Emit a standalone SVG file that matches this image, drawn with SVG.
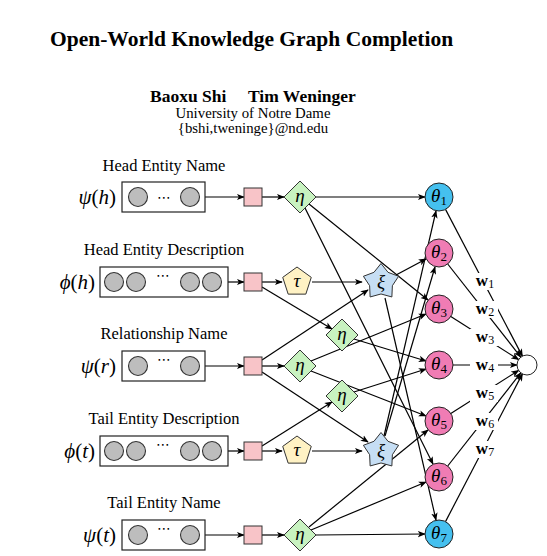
<svg xmlns="http://www.w3.org/2000/svg" width="547" height="556" viewBox="0 0 547 556">
<style>
text { font-family: "Liberation Serif", "Times New Roman", serif; fill:#000; }
.title { font-size:21.5px; font-weight:bold; }
.auth { font-size:17.5px; font-weight:bold; }
.aff { font-size:14.8px; text-anchor:middle; }
.lbl { font-size:16.5px; text-anchor:middle; }
.math { font-size:21px; font-style:italic; text-anchor:end; }
.up { font-style:normal; }
.dots { font-family:"DejaVu Sans", sans-serif; font-size:14px; text-anchor:middle; }
.sym { font-size:19px; font-style:italic; text-anchor:middle; }
.th { font-size:19px; font-style:italic; text-anchor:middle; }
.sub { font-size:13px; font-style:normal; }
.box { fill:#fff; stroke:#222; stroke-width:1.2; }
.dot { fill:#bdbdbd; stroke:#333; stroke-width:1.1; }
.sq { fill:#f8c4c8; stroke:#333; stroke-width:1; }
.dia { fill:#c8f2c0; stroke:#333; stroke-width:1; }
.pent { fill:#fff2c4; stroke:#333; stroke-width:1; }
.star { fill:#c6def4; stroke:#333; stroke-width:1; }
.tp { fill:#f07cb4; stroke:#222; stroke-width:1; }
.tc { fill:#45c0ef; stroke:#222; stroke-width:1; }
.out { fill:#fff; stroke:#222; stroke-width:1; }
#connectors line { stroke:#000; stroke-width:1.2; fill:none; marker-end:url(#ah); }
.wbg { fill:#fff; stroke:none; }
.w { font-size:17px; font-weight:bold; text-anchor:middle; }
.ws { font-size:12px; font-weight:normal; }
</style>
<defs>
<marker id="ah" viewBox="0 0 10 10" refX="9" refY="5" markerWidth="8" markerHeight="8" orient="auto" markerUnits="userSpaceOnUse">
<path d="M0,1 L10,5 L0,9 L2.5,5 z" fill="#000"/>
</marker>
<polygon id="dm" points="0,-16 16,0 0,16 -16,0"/>
<polygon id="pg" points="0,-15 14.27,-4.64 8.82,12.14 -8.82,12.14 -14.27,-4.64"/>
<polygon id="st" points="0,-18.5 7.04,-9.68 17.6,-5.71 11.38,3.7 10.87,14.96 0,11.97 -10.87,14.96 -11.38,3.7 -17.6,-5.71 -7.04,-9.68"/>
</defs>

<rect width="547" height="556" fill="#fff"/>

<g id="header">
<text class="title" x="50" y="46">Open-World Knowledge Graph Completion</text>
<text class="auth" x="150" y="102">Baoxu Shi</text>
<text class="auth" x="248" y="102">Tim Weninger</text>
<text class="aff" x="253" y="118">University of Notre Dame</text>
<text class="aff" x="253" y="133">{bshi,tweninge}@nd.edu</text>
</g>

<g id="connectors">
<line x1="205" y1="197" x2="244" y2="197"/>
<line x1="228" y1="282" x2="244" y2="282"/>
<line x1="205" y1="366" x2="244" y2="366"/>
<line x1="228" y1="451" x2="244" y2="451"/>
<line x1="205" y1="535" x2="244" y2="535"/>
<line x1="262" y1="197" x2="284" y2="197"/>
<line x1="262" y1="282" x2="282" y2="282"/>
<line x1="262" y1="366" x2="284" y2="366"/>
<line x1="262" y1="451" x2="282" y2="451"/>
<line x1="262" y1="535" x2="284" y2="535"/>
<line x1="312" y1="282" x2="362" y2="282"/>
<line x1="312" y1="451" x2="362" y2="451"/>
<line x1="262" y1="287" x2="332" y2="329"/>
<line x1="262" y1="360" x2="368" y2="290"/>
<line x1="262" y1="372" x2="368" y2="442"/>
<line x1="262" y1="446" x2="332" y2="402"/>
<line x1="316" y1="197" x2="425" y2="197"/>
<line x1="309" y1="204" x2="428" y2="300"/>
<line x1="305" y1="208" x2="433" y2="464"/>
<line x1="396" y1="275" x2="426" y2="259"/>
<line x1="385" y1="298" x2="436" y2="520"/>
<line x1="384" y1="436" x2="436" y2="211"/>
<line x1="385" y1="436" x2="435" y2="267"/>
<line x1="354" y1="339" x2="426" y2="361"/>
<line x1="354" y1="392" x2="426" y2="369"/>
<line x1="311" y1="361" x2="426" y2="314"/>
<line x1="311" y1="371" x2="426" y2="416"/>
<line x1="316" y1="535" x2="425" y2="534"/>
<line x1="311" y1="530" x2="426" y2="482"/>
<line x1="309" y1="527" x2="428" y2="430"/>
<line x1="445.5" y1="209.4" x2="522.4" y2="356.1"/>
<line x1="447.7" y1="264" x2="520.8" y2="357.1"/>
<line x1="450.8" y1="316.5" x2="518.6" y2="359.6"/>
<line x1="453" y1="365" x2="517" y2="365"/>
<line x1="450.8" y1="413.5" x2="518.6" y2="370.4"/>
<line x1="447.7" y1="466" x2="520.8" y2="372.9"/>
<line x1="445.5" y1="521.6" x2="522.4" y2="373.9"/>
</g>

<g id="row-head-name">
<text class="lbl" x="164" y="171">Head Entity Name</text>
<text class="math" x="116" y="204">ψ<tspan class="up">(</tspan>h<tspan class="up">)</tspan></text>
<rect class="box" x="122" y="182" width="83" height="30"/>
<circle class="dot" cx="138" cy="197" r="9.5"/>
<circle class="dot" cx="190" cy="197" r="9.5"/>
<text class="dots" x="164" y="202">⋯</text>
</g>
<g id="row-head-desc">
<text class="lbl" x="164" y="255">Head Entity Description</text>
<text class="math" x="95" y="289">ϕ<tspan class="up">(</tspan>h<tspan class="up">)</tspan></text>
<rect class="box" x="100" y="267" width="128" height="30"/>
<circle class="dot" cx="114" cy="282" r="9.5"/>
<circle class="dot" cx="136" cy="282" r="9.5"/>
<circle class="dot" cx="190" cy="282" r="9.5"/>
<circle class="dot" cx="212" cy="282" r="9.5"/>
<text class="dots" x="163" y="280">⋯</text>
</g>
<g id="row-rel">
<text class="lbl" x="164" y="339">Relationship Name</text>
<text class="math" x="116" y="373">ψ<tspan class="up">(</tspan>r<tspan class="up">)</tspan></text>
<rect class="box" x="122" y="351" width="83" height="30"/>
<circle class="dot" cx="138" cy="366" r="9.5"/>
<circle class="dot" cx="190" cy="366" r="9.5"/>
<text class="dots" x="164" y="364">⋯</text>
</g>
<g id="row-tail-desc">
<text class="lbl" x="164" y="424">Tail Entity Description</text>
<text class="math" x="95" y="458">ϕ<tspan class="up">(</tspan>t<tspan class="up">)</tspan></text>
<rect class="box" x="100" y="436" width="128" height="30"/>
<circle class="dot" cx="114" cy="451" r="9.5"/>
<circle class="dot" cx="136" cy="451" r="9.5"/>
<circle class="dot" cx="190" cy="451" r="9.5"/>
<circle class="dot" cx="212" cy="451" r="9.5"/>
<text class="dots" x="163" y="449">⋯</text>
</g>
<g id="row-tail-name">
<text class="lbl" x="164" y="508">Tail Entity Name</text>
<text class="math" x="116" y="542">ψ<tspan class="up">(</tspan>t<tspan class="up">)</tspan></text>
<rect class="box" x="122" y="520" width="83" height="30"/>
<circle class="dot" cx="138" cy="535" r="9.5"/>
<circle class="dot" cx="190" cy="535" r="9.5"/>
<text class="dots" x="164" y="533">⋯</text>
</g>

<g id="sq1"><rect class="sq" x="244" y="188" width="18" height="18"/></g>
<g id="sq2"><rect class="sq" x="244" y="273" width="18" height="18"/></g>
<g id="sq3"><rect class="sq" x="244" y="357" width="18" height="18"/></g>
<g id="sq4"><rect class="sq" x="244" y="442" width="18" height="18"/></g>
<g id="sq5"><rect class="sq" x="244" y="526" width="18" height="18"/></g>

<g id="eta1"><use href="#dm" class="dia" x="300" y="197"/><text class="sym" x="300" y="202">η</text></g>
<g id="tau1"><use href="#pg" class="pent" x="297" y="282"/><text class="sym" x="297" y="287">τ</text></g>
<g id="xi1"><use href="#st" class="star" x="381" y="282"/><text class="sym" x="381" y="288">ξ</text></g>
<g id="eta-a"><use href="#dm" class="dia" x="342" y="335"/><text class="sym" x="342" y="340">η</text></g>
<g id="eta3"><use href="#dm" class="dia" x="300" y="366"/><text class="sym" x="300" y="371">η</text></g>
<g id="eta-b"><use href="#dm" class="dia" x="342" y="396"/><text class="sym" x="342" y="401">η</text></g>
<g id="tau2"><use href="#pg" class="pent" x="297" y="451"/><text class="sym" x="297" y="456">τ</text></g>
<g id="xi2"><use href="#st" class="star" x="381" y="451"/><text class="sym" x="381" y="457">ξ</text></g>
<g id="eta5"><use href="#dm" class="dia" x="300" y="535"/><text class="sym" x="300" y="540">η</text></g>

<g id="theta1"><circle class="tc" cx="439" cy="197" r="14"/><text class="th" x="439" y="202">θ<tspan class="sub" dy="3">1</tspan></text></g>
<g id="theta2"><circle class="tp" cx="439" cy="253" r="14"/><text class="th" x="439" y="258">θ<tspan class="sub" dy="3">2</tspan></text></g>
<g id="theta3"><circle class="tp" cx="439" cy="309" r="14"/><text class="th" x="439" y="314">θ<tspan class="sub" dy="3">3</tspan></text></g>
<g id="theta4"><circle class="tp" cx="439" cy="365" r="14"/><text class="th" x="439" y="370">θ<tspan class="sub" dy="3">4</tspan></text></g>
<g id="theta5"><circle class="tp" cx="439" cy="421" r="14"/><text class="th" x="439" y="426">θ<tspan class="sub" dy="3">5</tspan></text></g>
<g id="theta6"><circle class="tp" cx="439" cy="477" r="14"/><text class="th" x="439" y="482">θ<tspan class="sub" dy="3">6</tspan></text></g>
<g id="theta7"><circle class="tc" cx="439" cy="534" r="14"/><text class="th" x="439" y="539">θ<tspan class="sub" dy="3">7</tspan></text></g>

<g id="output"><circle class="out" cx="527" cy="365" r="10"/></g>

<g id="weights">
<rect class="wbg" x="470" y="273" width="28" height="17"/><text class="w" x="485" y="286">w<tspan class="ws" dy="2">1</tspan></text>
<rect class="wbg" x="470" y="301" width="28" height="17"/><text class="w" x="485" y="314">w<tspan class="ws" dy="2">2</tspan></text>
<rect class="wbg" x="470" y="329" width="28" height="17"/><text class="w" x="485" y="342">w<tspan class="ws" dy="2">3</tspan></text>
<rect class="wbg" x="470" y="357" width="28" height="17"/><text class="w" x="485" y="370">w<tspan class="ws" dy="2">4</tspan></text>
<rect class="wbg" x="470" y="385" width="28" height="17"/><text class="w" x="485" y="398">w<tspan class="ws" dy="2">5</tspan></text>
<rect class="wbg" x="470" y="413" width="28" height="17"/><text class="w" x="485" y="426">w<tspan class="ws" dy="2">6</tspan></text>
<rect class="wbg" x="470" y="441" width="28" height="17"/><text class="w" x="485" y="454">w<tspan class="ws" dy="2">7</tspan></text>
</g>
</svg>
